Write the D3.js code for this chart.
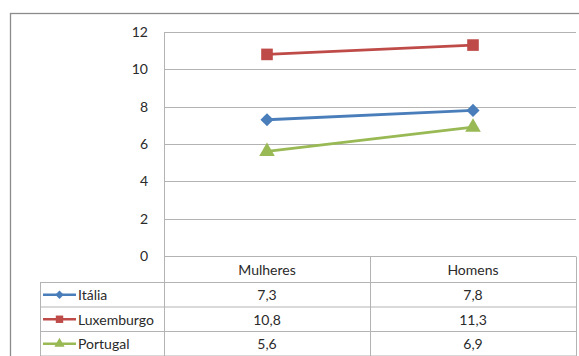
<!DOCTYPE html>
<html>
<head>
<meta charset="utf-8">
<script src="https://cdn.jsdelivr.net/npm/d3@7"></script>
<style>
  body { margin: 0; background: #fff; }
  svg { display: block; font-family: Lato, "Open Sans", sans-serif; }
</style>
</head>
<body>
<div id="chart"></div>
<script>
// Data ------------------------------------------------------------------------
const categories = ["Mulheres", "Homens"];
const seriesNames = ["Itália", "Luxemburgo", "Portugal"];
const italia = [7.3, 7.8];
const luxemburgo = [10.8, 11.3];
const portugal = [5.6, 6.9];
const yTicks = [0, 2, 4, 6, 8, 10, 12];

const series = [
  { name: seriesNames[0], values: italia, color: "#4a7ebb", marker: d3.symbolDiamond2, size: 110, legendSize: 45 },
  { name: seriesNames[1], values: luxemburgo, color: "#be4b48", marker: d3.symbolSquare, size: 135, legendSize: 55 },
  { name: seriesNames[2], values: portugal, color: "#98b954", marker: d3.symbolTriangle, size: 105, legendSize: 45 }
];

// Canvas ----------------------------------------------------------------------
const width = 579;
const height = 356;
const plotLeft = 164;
const plotRight = 576;
const plotTop = 32;
const plotBottom = 256;
const tableLeft = 40;
const rowHeight = 24.5;
const headerHeight = 26;
const fontSize = 14;
const textColor = "#2a2a2a";
const gridColor = "#b3b3b3";

const svg = d3.select("#chart")
  .append("svg")
  .attr("width", width)
  .attr("height", height);

// outer frame
svg.append("rect")
  .attr("x", 10.5)
  .attr("y", 13.5)
  .attr("width", 700)
  .attr("height", 500)
  .style("fill", "none")
  .style("stroke", "#8c8c8c")
  .style("stroke-width", 1.3);

// Scales ----------------------------------------------------------------------
const xScale = d3.scaleBand()
  .domain(categories)
  .range([plotLeft, plotRight]);
const yScale = d3.scaleLinear()
  .domain([0, 12])
  .range([plotBottom, plotTop]);

// gridlines
svg.append("g")
  .selectAll("line")
  .data(yTicks)
  .join("line")
  .attr("x1", plotLeft)
  .attr("x2", plotRight)
  .attr("y1", d => Math.round(yScale(d)) + 0.5)
  .attr("y2", d => Math.round(yScale(d)) + 0.5)
  .style("stroke", gridColor)
  .style("stroke-width", 1);

// y axis
const yAxis = svg.append("g")
  .attr("transform", "translate(" + plotLeft + ",0)")
  .call(d3.axisLeft(yScale).tickValues(yTicks).tickSize(0).tickPadding(16));
yAxis.select(".domain").remove();
yAxis.selectAll("text")
  .style("font-size", fontSize)
  .style("font-family", "Lato, 'Open Sans', sans-serif")
  .style("fill", textColor);

svg.append("line")
  .attr("x1", plotLeft + 0.5)
  .attr("x2", plotLeft + 0.5)
  .attr("y1", plotTop)
  .attr("y2", height)
  .style("stroke", gridColor);

// Data table ------------------------------------------------------------------
const tableTop = Math.round(yScale(0)) + 0.5;
const rowsTop = tableTop + headerHeight;
const tableGroup = svg.append("g");

// header row
tableGroup.selectAll("text.header")
  .data(categories)
  .join("text")
  .attr("class", "header")
  .attr("x", d => xScale(d) + xScale.bandwidth() / 2)
  .attr("y", tableTop + headerHeight / 2)
  .attr("text-anchor", "middle")
  .attr("dominant-baseline", "central")
  .style("font-size", fontSize)
  .style("fill", textColor)
  .text(d => d);

// horizontal borders
const hLines = d3.range(series.length + 1).map(i => rowsTop + i * rowHeight);
tableGroup.selectAll("line.h")
  .data(hLines)
  .join("line")
  .attr("class", "h")
  .attr("x1", tableLeft)
  .attr("x2", plotRight + 1)
  .attr("y1", d => d)
  .attr("y2", d => d)
  .style("stroke", gridColor);

// vertical borders
tableGroup.append("line")
  .attr("x1", tableLeft + 0.5).attr("x2", tableLeft + 0.5)
  .attr("y1", rowsTop).attr("y2", height)
  .style("stroke", gridColor);
tableGroup.selectAll("line.v")
  .data(categories)
  .join("line")
  .attr("class", "v")
  .attr("x1", d => Math.round(xScale(d) + xScale.bandwidth()) + 0.5)
  .attr("x2", d => Math.round(xScale(d) + xScale.bandwidth()) + 0.5)
  .attr("y1", tableTop)
  .attr("y2", height)
  .style("stroke", gridColor);

// rows
const rows = tableGroup.selectAll("g.row")
  .data(series)
  .join("g")
  .attr("class", "row")
  .attr("transform", (d, i) => "translate(0," + (rowsTop + i * rowHeight + rowHeight / 2) + ")");

rows.append("line")
  .attr("x1", 43)
  .attr("x2", 76)
  .style("stroke", d => d.color)
  .style("stroke-width", 2.5);

rows.append("path")
  .attr("transform", "translate(59.5,0)")
  .attr("d", d => d3.symbol().type(d.marker).size(d.legendSize)())
  .style("fill", d => d.color);

rows.append("text")
  .attr("x", 78)
  .attr("dominant-baseline", "central")
  .style("font-size", fontSize)
  .style("fill", textColor)
  .text(d => d.name);

rows.selectAll("text.val")
  .data(d => d.values.map((v, i) => ({ v: v, c: categories[i] })))
  .join("text")
  .attr("class", "val")
  .attr("x", d => xScale(d.c) + xScale.bandwidth() / 2)
  .attr("text-anchor", "middle")
  .attr("dominant-baseline", "central")
  .style("font-size", fontSize)
  .style("fill", textColor)
  .text(d => String(d.v).replace(".", ","));

// Lines and markers -----------------------------------------------------------
const line = d3.line()
  .x((d, i) => xScale(categories[i]) + xScale.bandwidth() / 2)
  .y(d => yScale(d));

const plot = svg.append("g");

plot.selectAll("path.series")
  .data(series)
  .join("path")
  .attr("class", "series")
  .attr("d", d => line(d.values))
  .style("fill", "none")
  .style("stroke", d => d.color)
  .style("stroke-width", 2.8);

series.forEach(function(s) {
  plot.selectAll(null)
    .data(s.values)
    .join("path")
    .attr("transform", (d, i) =>
      "translate(" + (xScale(categories[i]) + xScale.bandwidth() / 2) + "," + yScale(d) + ")")
    .attr("d", d3.symbol().type(s.marker).size(s.size)())
    .style("fill", s.color);
});
</script>
</body>
</html>
